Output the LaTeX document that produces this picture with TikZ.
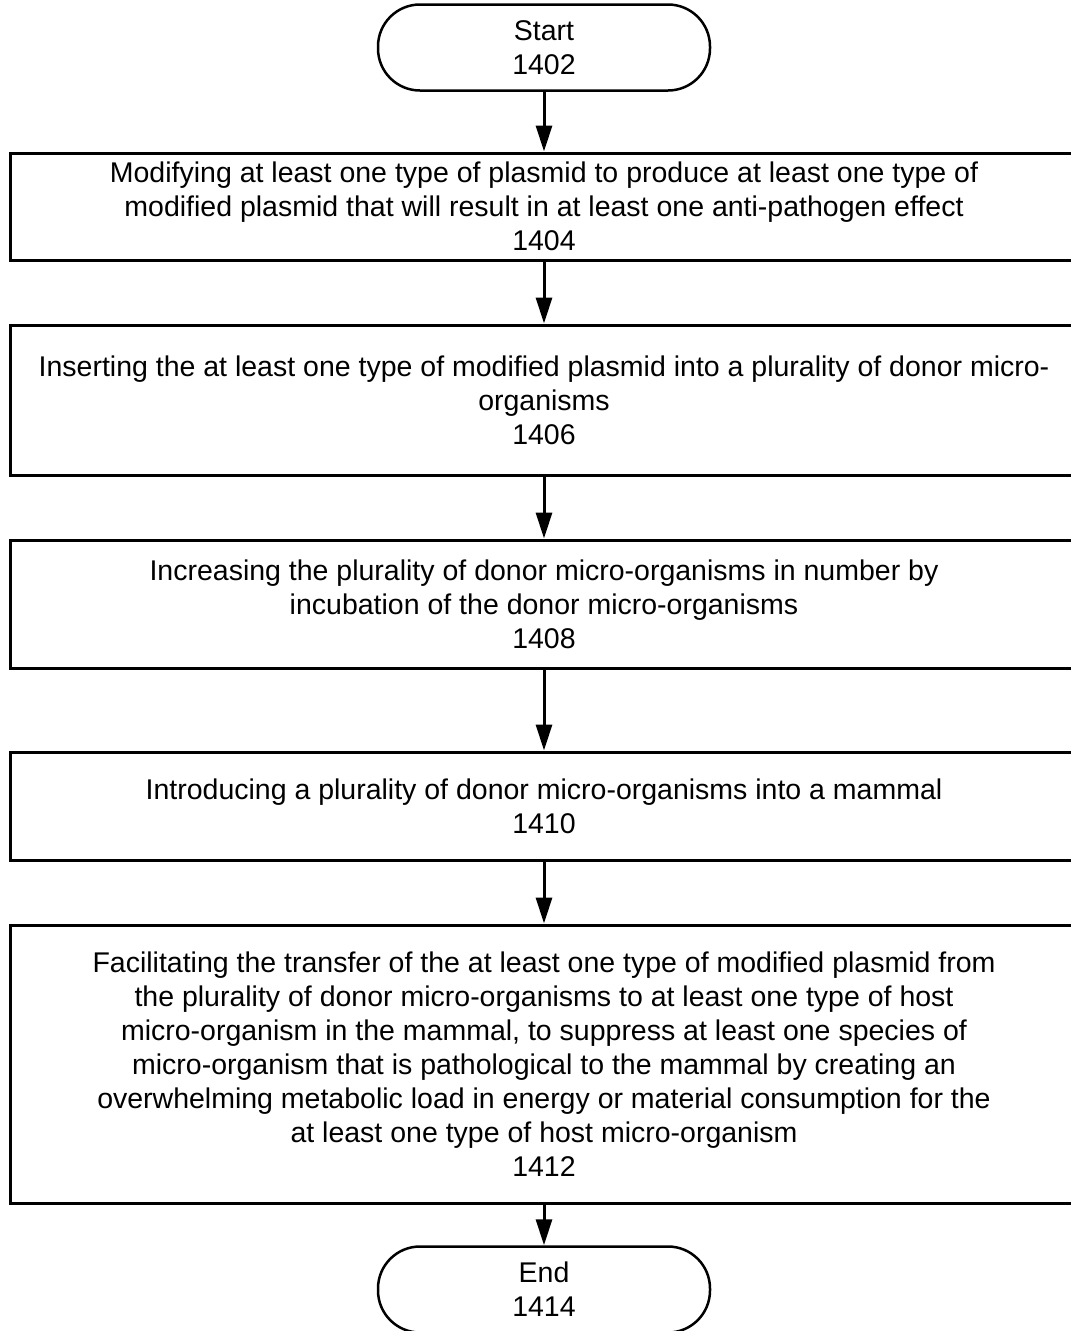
\documentclass[tikz,border=0pt]{standalone}
\usepackage{fontspec}
\setmainfont{Liberation Sans}
\usetikzlibrary{arrows.meta}
\begin{document}
\begin{tikzpicture}[x=1pt,y=-1pt,
  txt/.style={font=\fontsize{28.5}{34}\selectfont,align=center},
  stepbox/.style={txt,draw,line width=3pt,minimum width=1068pt,inner sep=0pt},
  term/.style={txt,draw,line width=2.5pt,rounded corners=42pt,minimum width=332pt,minimum height=86pt,inner sep=0pt},
  flow/.style={line width=3pt,-{Triangle[length=26pt,width=16pt]}}]
\useasboundingbox (0,0) rectangle (1071,1331);

% terminals and process steps
\node[term] (start) at (544,47.5) {Start\\1402};
\node[stepbox,minimum height=107pt] (s1404) at (544,206.5)
  {Modifying at least one type of plasmid to produce at least one type of\\
   modified plasmid that will result in at least one anti-pathogen effect\\1404};
\node[stepbox,minimum height=150pt] (s1406) at (544,400)
  {Inserting the at least one type of modified plasmid into a plurality of donor micro-\\
   organisms\\1406};
\node[stepbox,minimum height=128pt] (s1408) at (544,604)
  {Increasing the plurality of donor micro-organisms in number by\\
   incubation of the donor micro-organisms\\1408};
\node[stepbox,minimum height=108pt] (s1410) at (544,806)
  {Introducing a plurality of donor micro-organisms into a mammal\\1410};
\node[stepbox,minimum height=278pt] (s1412) at (544,1064)
  {Facilitating the transfer of the at least one type of modified plasmid from\\
   the plurality of donor micro-organisms to at least one type of host\\
   micro-organism in the mammal, to suppress at least one species of\\
   micro-organism that is pathological to the mammal by creating an\\
   overwhelming metabolic load in energy or material consumption for the\\
   at least one type of host micro-organism\\1412};
\node[term] (end) at (544,1289.5) {End\\1414};

% connectors
\draw[flow] (start) -- (s1404);
\draw[flow] (s1404) -- (s1406);
\draw[flow] (s1406) -- (s1408);
\draw[flow] (s1408) -- (s1410);
\draw[flow] (s1410) -- (s1412);
\draw[flow] (s1412) -- (end);
\end{tikzpicture}
\end{document}
